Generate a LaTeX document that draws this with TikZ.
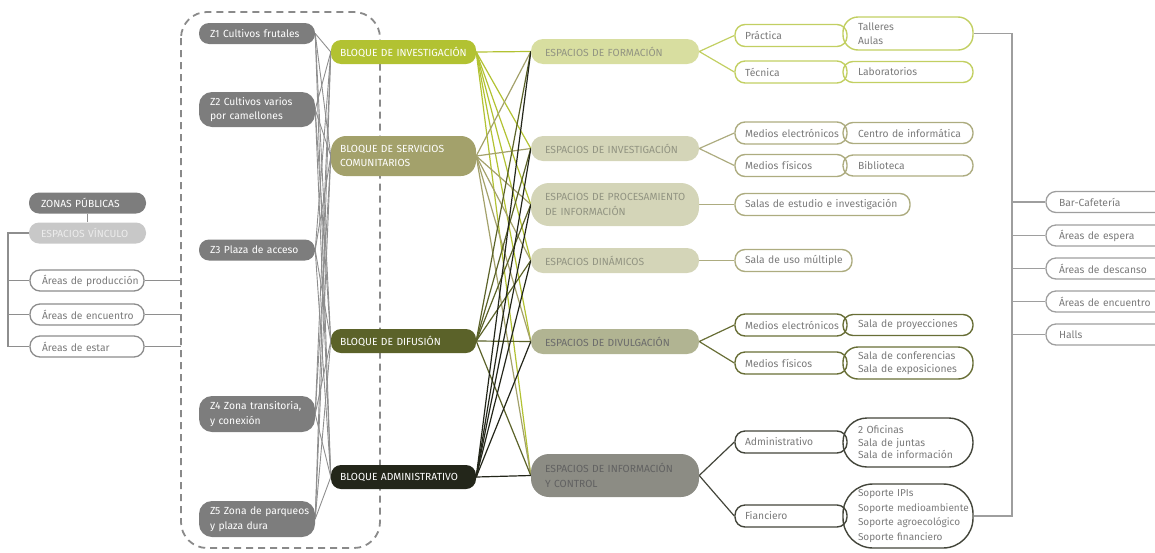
\documentclass[tikz,border=0pt]{standalone}
\usepackage{fontspec}
\setmainfont{Fira Sans}
\usetikzlibrary{backgrounds}
\definecolor{zgrey}{HTML}{7D7D7D}
\definecolor{vgrey}{HTML}{C8C8C8}
\definecolor{vtext}{HTML}{ECECEC}
\definecolor{ogrey}{HTML}{8C8C8C}
\definecolor{otext}{HTML}{7A7A7A}
\definecolor{binv}{HTML}{B2C232}
\definecolor{bserv}{HTML}{A3A16B}
\definecolor{bdif}{HTML}{5B6229}
\definecolor{badm}{HTML}{23261A}
\definecolor{eform}{HTML}{D8DEA0}
\definecolor{einv}{HTML}{D4D5B8}
\definecolor{ediv}{HTML}{B1B492}
\definecolor{einf}{HTML}{8C8C84}
\definecolor{cform}{HTML}{C2CF62}
\definecolor{cinv}{HTML}{ADAC80}
\definecolor{cdiv}{HTML}{686E36}
\definecolor{cinf}{HTML}{43453A}
\definecolor{lgrey}{HTML}{8E8E8E}
\definecolor{rgrey}{HTML}{9E9E9E}
\definecolor{etext}{HTML}{929482}
\newcommand{\nbx}[1]{\mbox{#1}}
\begin{document}
\begin{tikzpicture}[x=1pt,y=-1pt,
  every node/.style={inner sep=0pt, font=\fontsize{10.3}{14.5}\selectfont},
  pill/.style={rectangle, rounded corners=10pt, align=left},
  lbox/.style={pill, minimum width=117pt, text width=93pt, minimum height=21pt},
  lobox/.style={pill, draw=ogrey, line width=1.3pt, text=otext, minimum width=114pt, text width=90pt, minimum height=21pt},
  zbox/.style={pill, fill=zgrey, text=white, minimum width=116pt, text width=94pt, minimum height=21pt},
  bbox/.style={pill, text=white, minimum width=145pt, text width=127pt, minimum height=24pt},
  ebox/.style={pill, rounded corners=12pt, minimum width=168pt, text width=140pt, minimum height=25pt},
  obox/.style={pill, line width=1.4pt, text=otext, minimum width=112pt, text width=92pt, minimum height=22pt},
  rbox/.style={pill, line width=1.4pt, text=otext, minimum width=130pt, text width=100pt, minimum height=21pt},
  gbox/.style={pill, draw=rgrey, line width=1.3pt, text=otext, minimum width=130pt, text width=104pt, minimum height=21pt},
  zline/.style={lgrey, line width=0.9pt},
  cline/.style={line width=1.2pt}
]
\useasboundingbox (0,0) rectangle (1155,552);

% dashed group
\draw[zgrey!90, line width=1.8pt, dash pattern=on 7pt off 5pt, rounded corners=26pt] (181,12) rectangle (380,548);

% left zone
\node[lbox, fill=zgrey, text=white] (zp) at (87.5,203) {\nbx{ZONAS PÚBLICAS}};
\node[lbox, fill=vgrey, text=vtext] (ev) at (87.5,233) {\nbx{ESPACIOS VÍNCULO}};
\node[lobox] (ap) at (87,280.5) {\nbx{Áreas de producción}};
\node[lobox] (ae) at (87,314.5) {\nbx{Áreas de encuentro}};
\node[lobox] (as) at (87,346.5) {\nbx{Áreas de estar}};
\coordinate (lx) at (8,0);
\coordinate (dl) at (181,0);

% Z nodes
\node[zbox] (z1) at (257,33.5) {\nbx{Z1 Cultivos frutales}};
\node[zbox, minimum height=35pt, rounded corners=13pt] (z2) at (257,109.5) {\nbx{Z2 Cultivos varios}\\\nbx{por camellones}};
\node[zbox] (z3) at (257,250) {\nbx{Z3 Plaza de acceso}};
\node[zbox, minimum height=36pt, rounded corners=13pt] (z4) at (257,414) {\nbx{Z4 Zona transitoria,}\\\nbx{y conexión}};
\node[zbox, minimum height=36pt, rounded corners=13pt] (z5) at (257,519) {\nbx{Z5 Zona de parqueos}\\\nbx{y plaza dura}};

% Bloques
\node[bbox, fill=binv] (b1) at (403.5,52) {\nbx{BLOQUE DE INVESTIGACIÓN}};
\node[bbox, fill=bserv, minimum height=40pt, rounded corners=15pt] (b2) at (403.5,156) {\nbx{BLOQUE DE SERVICIOS}\\\nbx{COMUNITARIOS}};
\node[bbox, fill=bdif] (b3) at (403.5,341) {\nbx{BLOQUE DE DIFUSIÓN}};
\node[bbox, fill=badm] (b4) at (403.5,477) {\nbx{BLOQUE ADMINISTRATIVO}};

% Espacios
\node[ebox, fill=eform, text=etext] (e1) at (615,51.5) {\nbx{ESPACIOS DE FORMACIÓN}};
\node[ebox, fill=einv, text=etext] (e2) at (615,148.5) {\nbx{ESPACIOS DE INVESTIGACIÓN}};
\node[ebox, fill=einv, text=etext, minimum height=43pt, rounded corners=18pt] (e3) at (615,204.5) {\nbx{ESPACIOS DE PROCESAMIENTO}\\\nbx{DE INFORMACIÓN}};
\node[ebox, fill=einv, text=etext] (e4) at (615,260.5) {\nbx{ESPACIOS DINÁMICOS}};
\node[ebox, fill=ediv, text=black!58] (e5) at (615,341.5) {\nbx{ESPACIOS DE DIVULGACIÓN}};
\node[ebox, fill=einf, text=black!62, minimum height=43pt, rounded corners=18pt] (e6) at (615,475.5) {\nbx{ESPACIOS DE INFORMACIÓN}\\\nbx{Y CONTROL}};

% sub-nodes
\node[obox, draw=cform] (pr) at (791,35.5) {\nbx{Práctica}};
\node[rbox, draw=cform, minimum height=33pt, rounded corners=15pt, font=\fontsize{10.3}{13.5}\selectfont] (ta) at (908,33.5) {\nbx{Talleres}\\\nbx{Aulas}};
\node[obox, draw=cform] (te) at (791,72) {\nbx{Técnica}};
\node[rbox, draw=cform] (la) at (908,72) {\nbx{Laboratorios}};
\node[obox, draw=cinv] (me1) at (791,133) {\nbx{Medios electrónicos}};
\node[rbox, draw=cinv] (ci) at (908,133) {\nbx{Centro de informática}};
\node[obox, draw=cinv] (mf1) at (791,165.5) {\nbx{Medios físicos}};
\node[rbox, draw=cinv] (bi) at (908,165.5) {\nbx{Biblioteca}};
\node[obox, draw=cinv, minimum width=175pt, text width=155pt] (se) at (822.5,204.5) {\nbx{Salas de estudio e investigación}};
\node[obox, draw=cinv, minimum width=117pt, text width=97pt] (su) at (793.5,260.5) {\nbx{Sala de uso múltiple}};
\node[obox, draw=cdiv] (me2) at (791,325) {\nbx{Medios electrónicos}};
\node[rbox, draw=cdiv] (sp) at (908,325) {\nbx{Sala de proyecciones}};
\node[obox, draw=cdiv] (mf2) at (791,363) {\nbx{Medios físicos}};
\node[rbox, draw=cdiv, minimum height=32pt, rounded corners=15pt, font=\fontsize{10.3}{12.5}\selectfont] (sc) at (908,363) {\nbx{Sala de conferencias}\\\nbx{Sala de exposiciones}};
\node[obox, draw=cinf] (ad) at (791,442) {\nbx{Administrativo}};
\node[rbox, draw=cinf, minimum height=49pt, rounded corners=24pt, font=\fontsize{10.3}{12.5}\selectfont] (of) at (908,442.5) {\nbx{2 Oficinas}\\\nbx{Sala de juntas}\\\nbx{Sala de información}};
\node[obox, draw=cinf] (fi) at (791,516) {\nbx{Fianciero}};
\node[rbox, draw=cinf, minimum height=64pt, rounded corners=30pt, font=\fontsize{10}{14.5}\selectfont] (so) at (908,516) {\nbx{Soporte IPIs}\\\nbx{Soporte medioambiente}\\\nbx{Soporte agroecológico}\\\nbx{Soporte financiero}};

% right grey list
\node[gbox] (r1) at (1111,202) {\nbx{Bar-Cafetería}};
\node[gbox] (r2) at (1111,235.5) {\nbx{Áreas de espera}};
\node[gbox] (r3) at (1111,268.5) {\nbx{Áreas de descanso}};
\node[gbox] (r4) at (1111,301.5) {\nbx{Áreas de encuentro}};
\node[gbox] (r5) at (1111,334.5) {\nbx{Halls}};
\coordinate (vx) at (1012,0);

\begin{scope}[on background layer]
  % left connectors
  \draw[lgrey, line width=1.1pt] (zp) -- (ev);
  \draw[lgrey, line width=1.1pt] (ev.west) -- (ev.west -| lx) -- (as.west -| lx) -- (as.west);
  \draw[lgrey, line width=1.1pt] (ap.west -| lx) -- (ap.west);
  \draw[lgrey, line width=1.1pt] (ae.west -| lx) -- (ae.west);
  \draw[lgrey, line width=1.1pt] (ap.east) -- (ap.east -| dl);
  \draw[lgrey, line width=1.1pt] (ae.east) -- (ae.east -| dl);
  \draw[lgrey, line width=1.1pt] (as.east) -- (as.east -| dl);
  % Z to Bloque
  \foreach \z in {z1,z2,z3,z4,z5}
    \foreach \b in {b1,b2,b3,b4}
      \draw[zline] (\z.east) -- (\b.west);
  % Bloque to Espacios
  \foreach \b/\c in {b1/binv,b2/bserv,b3/bdif,b4/badm}
    \foreach \e in {e1,e2,e3,e4,e5,e6}
      \draw[cline, color=\c] (\b.east) -- (\e.west);
  % branches
  \draw[cline, cform] (pr.west) -- (e1.east) -- (te.west);
  \draw[cline, cinv] (me1.west) -- (e2.east) -- (mf1.west);
  \draw[cline, cinv] (e3.east) -- (se.west);
  \draw[cline, cinv] (e4.east) -- (su.west);
  \draw[cline, cdiv] (me2.west) -- (e5.east) -- (mf2.west);
  \draw[cline, cinf] (ad.west) -- (e6.east) -- (fi.west);
  % right grey bracket
  \draw[rgrey, line width=1.1pt] (ta.east) -- (ta.east -| vx) -- (so.east -| vx) -- (so.east);
  \foreach \r in {r1,r2,r3,r4,r5}
    \draw[rgrey, line width=1.1pt] (\r.west -| vx) -- (\r.west);
\end{scope}
\end{tikzpicture}
\end{document}
